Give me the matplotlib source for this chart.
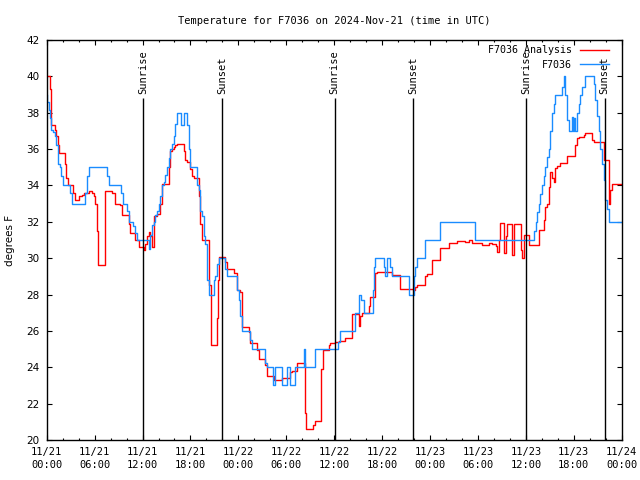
import matplotlib
matplotlib.use("Agg")
import matplotlib.pyplot as plt
import matplotlib.dates as mdates
import pandas as pd

# hours after 2024-11-21 00:00 UTC, temperature in F (step data)
analysis_hours = [0.0, 0.38, 0.58, 1.0, 1.21, 1.42, 1.59, 2.25, 2.46, 2.67, 3.3, 3.51, 4.09, 4.42,
                  4.63, 5.26, 5.68, 5.88, 6.09, 6.3, 6.43, 7.35, 8.18, 8.51, 9.22, 9.43, 10.27, 10.48,
                  11.1, 11.52, 12.15, 12.36, 12.56, 12.77, 12.98, 13.19, 13.4, 13.82, 14.24, 14.44,
                  15.28, 15.49, 15.69, 15.9, 16.11, 16.32, 17.15, 17.36, 17.57, 17.99, 18.2, 18.4,
                  19.03, 19.24, 19.45, 20.37, 20.58, 21.33, 21.45, 21.62, 22.37, 22.58, 23.42, 23.83,
                  24.25, 24.46, 25.29, 25.5, 26.34, 26.55, 27.38, 27.59, 28.42, 29.47, 30.51, 30.72,
                  31.35, 32.39, 32.52, 33.35, 33.64, 34.39, 34.56, 35.31, 35.52, 36.15, 36.56, 37.4,
                  38.23, 39.07, 39.28, 39.48, 40.33, 40.53, 41.16, 41.37, 43.24, 44.29, 45.96, 46.17,
                  46.38, 47.42, 47.63, 48.25, 49.3, 50.34, 51.38, 52.43, 52.85, 53.27, 54.52, 55.36,
                  55.78, 56.2, 56.41, 56.61, 56.82, 57.24, 57.45, 57.66, 58.28, 58.49, 59.33, 59.54,
                  59.75, 60.38, 60.59, 61.63, 62.26, 62.44, 62.65, 62.86, 63.07, 63.28, 63.48, 63.69,
                  63.9, 64.32, 65.15, 66.2, 66.4, 66.61, 67.24, 67.45, 68.28, 68.49, 69.74, 70.37,
                  70.5, 70.57, 70.78, 72.0]
analysis_temp = [40.0, 39.3, 37.3, 37.05, 36.7, 36.2, 35.8, 35.2, 34.4, 34.0, 33.6, 33.2, 33.4, 33.5,
                 33.6, 33.7, 33.6, 33.4, 33.0, 31.5, 29.6, 33.7, 33.6, 33.0, 32.9, 32.4, 31.9, 31.4,
                 31.0, 30.6, 30.45, 30.8, 31.2, 31.45, 31.2, 30.6, 32.3, 32.45, 33.0, 34.1,
                 35.0, 35.9, 36.0, 36.1, 36.2, 36.3, 35.9, 35.4, 35.3, 34.9, 34.5, 34.4,
                 33.4, 31.9, 31.0, 28.5, 25.2, 26.7, 28.8, 30.05, 29.8, 29.4, 29.2, 28.25,
                 28.15, 26.2, 25.95, 25.35, 24.95, 24.45, 24.1, 23.5, 23.3, 23.4, 23.75, 23.8,
                 24.25, 21.5, 20.6, 20.8, 21.05, 23.9, 24.95, 25.2, 25.35, 25.4, 25.45, 25.6,
                 26.95, 26.25, 26.8, 27.0, 27.35, 27.85, 29.2, 29.25, 29.05, 28.3, 28.25, 28.4,
                 28.5, 29.0, 29.15, 29.9, 30.55, 30.85, 30.95, 30.9, 31.0, 30.85, 30.75, 30.85,
                 30.8, 30.65, 30.35, 31.0, 31.95, 30.3, 31.2, 31.9, 30.2, 31.9, 30.45, 30.0,
                 31.3, 30.75, 30.7, 31.55, 32.1, 32.8, 33.0, 33.9, 34.75, 34.4, 34.2, 34.95,
                 35.05, 35.25, 35.6, 36.2, 36.6, 36.65, 36.8, 36.9, 36.5, 36.4, 35.4, 33.0,
                 33.1, 33.75, 34.1, 34.1]

obs_hours = [0.0, 0.04, 0.25, 0.38, 0.58, 0.79, 1.0, 1.17, 1.42, 1.63, 1.84, 2.05, 2.96, 3.17,
             4.84, 5.05, 5.26, 7.55, 7.76, 9.35, 9.52, 10.06, 10.27, 10.81, 11.02, 11.31, 12.77,
             12.98, 13.19, 13.4, 13.61, 13.82, 14.03, 14.24, 14.44, 14.65, 14.86, 15.07, 15.28,
             15.49, 15.69, 15.9, 16.11, 16.32, 16.82, 17.15, 17.57, 17.78, 17.99, 18.82, 19.03,
             19.24, 19.45, 19.65, 19.86, 20.07, 20.28, 20.91, 21.12, 21.33, 21.54, 22.37, 22.58,
             23.83, 24.04, 24.25, 24.46, 25.5, 25.71, 27.38, 27.59, 28.34, 28.63, 29.47, 30.09,
             30.51, 31.14, 32.18, 32.39, 33.64, 36.48, 36.77, 38.65, 39.07, 39.4, 39.7, 40.83,
             40.95, 41.16, 42.2, 42.41, 42.62, 43.04, 43.24, 45.33, 45.96, 46.17, 46.38, 47.42,
             49.3, 53.68, 61.0, 61.21, 61.4, 61.61, 61.82, 62.03, 62.23, 62.44, 62.65, 62.86,
             63.07, 63.28, 63.48, 63.69, 64.53, 64.74, 64.95, 65.15, 65.36, 65.78, 65.9, 65.99,
             66.2, 66.4, 66.61, 66.82, 67.03, 67.45, 68.49, 68.7, 68.91, 69.12, 69.32, 69.53,
             69.74, 69.95, 70.16, 70.37, 72.0]
obs_temp = [39.0, 38.6, 38.15, 37.7, 37.05, 36.95, 36.7, 36.2, 35.2, 35.0, 34.5, 34.0, 33.6, 33.0,
            33.6, 34.5, 35.0, 34.5, 34.0, 33.6, 33.0, 32.6, 32.0, 31.75, 31.4, 31.0, 30.5,
            31.3, 31.8, 32.0, 32.35, 32.6, 33.0, 33.4, 34.0, 34.2, 34.6, 35.0, 35.5,
            36.0, 36.3, 36.7, 37.4, 38.0, 37.3, 38.0, 37.3, 36.0, 35.0, 34.0, 33.75,
            32.6, 32.3, 31.2, 30.8, 28.8, 28.0, 28.8, 29.0, 29.7, 30.0, 29.4, 29.0,
            28.25, 27.7, 26.8, 26.0, 25.5, 25.0, 24.25, 24.0, 23.0, 24.0, 23.0, 24.0,
            23.0, 24.0, 25.0, 24.0, 25.0, 25.4, 26.0, 27.0, 28.0, 27.7, 27.0, 28.25,
            29.5, 30.0, 29.5, 29.0, 30.0, 29.5, 29.0, 28.0, 29.0, 29.5, 30.0, 31.0,
            32.0, 31.0, 31.5, 32.0, 32.55, 33.0, 33.55, 34.0, 34.5, 35.0, 35.55, 36.0,
            37.0, 38.0, 38.5, 39.0, 39.4, 40.0, 39.0, 37.6, 37.0, 37.75, 37.0, 37.7,
            37.0, 38.0, 38.5, 39.0, 39.4, 40.0, 39.6, 38.7, 37.8, 37.0, 36.0, 35.2,
            34.3, 33.2, 32.7, 32.0, 32.0]

sun_hours = [12.1, 21.95, 36.06, 45.9, 60.0, 69.87]
sun_labels = ["Sunrise", "Sunset", "Sunrise", "Sunset", "Sunrise", "Sunset"]

start = pd.Timestamp("2024-11-21 00:00")


def to_time(hours):
    return start + pd.to_timedelta(hours, unit="h")


fig = plt.figure(figsize=(6.4, 4.8), dpi=100)
ax = fig.add_axes([46.7 / 640, 40 / 480, 575 / 640, 400 / 480])

ax.plot(to_time(analysis_hours), analysis_temp, drawstyle="steps-post",
        color="#ff0000", lw=1.0, label="F7036 Analysis")
ax.plot(to_time(obs_hours), obs_temp, drawstyle="steps-post",
        color="#1a8cff", lw=1.0, label="F7036")

for h, lab in zip(sun_hours, sun_labels):
    t = to_time(h)
    ax.vlines(t, 20, 38.8, color="black", lw=1.0)
    ax.text(t, 39.05, lab, rotation=90, ha="center", va="bottom",
            fontsize=7.5, family="DejaVu Sans Mono")

ax.set_xlim(start, to_time(72))
ax.set_ylim(20, 42)
ax.set_yticks(range(20, 43, 2))

ax.xaxis.set_major_locator(mdates.HourLocator(byhour=[0, 6, 12, 18]))
ax.xaxis.set_minor_locator(mdates.HourLocator(byhour=range(0, 24, 2)))
ax.xaxis.set_major_formatter(mdates.DateFormatter("%m/%d\n%H:%M"))

ax.tick_params(which="both", direction="in", top=True, right=True, width=0.8)
ax.tick_params(which="major", length=3.3)
ax.tick_params(which="minor", length=1.7)
ax.tick_params(axis="x", pad=5, labelsize=7.5)
ax.tick_params(axis="y", pad=5, labelsize=7.5)
for lbl in ax.get_xticklabels():
    lbl.set_family("DejaVu Sans Mono")
    lbl.set_linespacing(1.4)
for sp in ax.spines.values():
    sp.set_linewidth(1.0)

ax.set_title("Temperature for F7036 on 2024-Nov-21 (time in UTC)",
             fontsize=7.5, family="DejaVu Sans Mono", pad=11.5)
fig.text(10 / 640, 240 / 480, "degrees F", rotation=90, ha="center", va="center", fontsize=7.5)

leg = ax.legend(loc="upper right", bbox_to_anchor=(609 / 640, 1 - 45 / 480),
                bbox_transform=fig.transFigure, frameon=False, markerfirst=False,
                borderpad=0, borderaxespad=0, handlelength=2.9, handletextpad=0.8,
                labelspacing=0.45, prop={"family": "DejaVu Sans Mono", "size": 7.2})

fig.savefig("out.png", dpi=100)
